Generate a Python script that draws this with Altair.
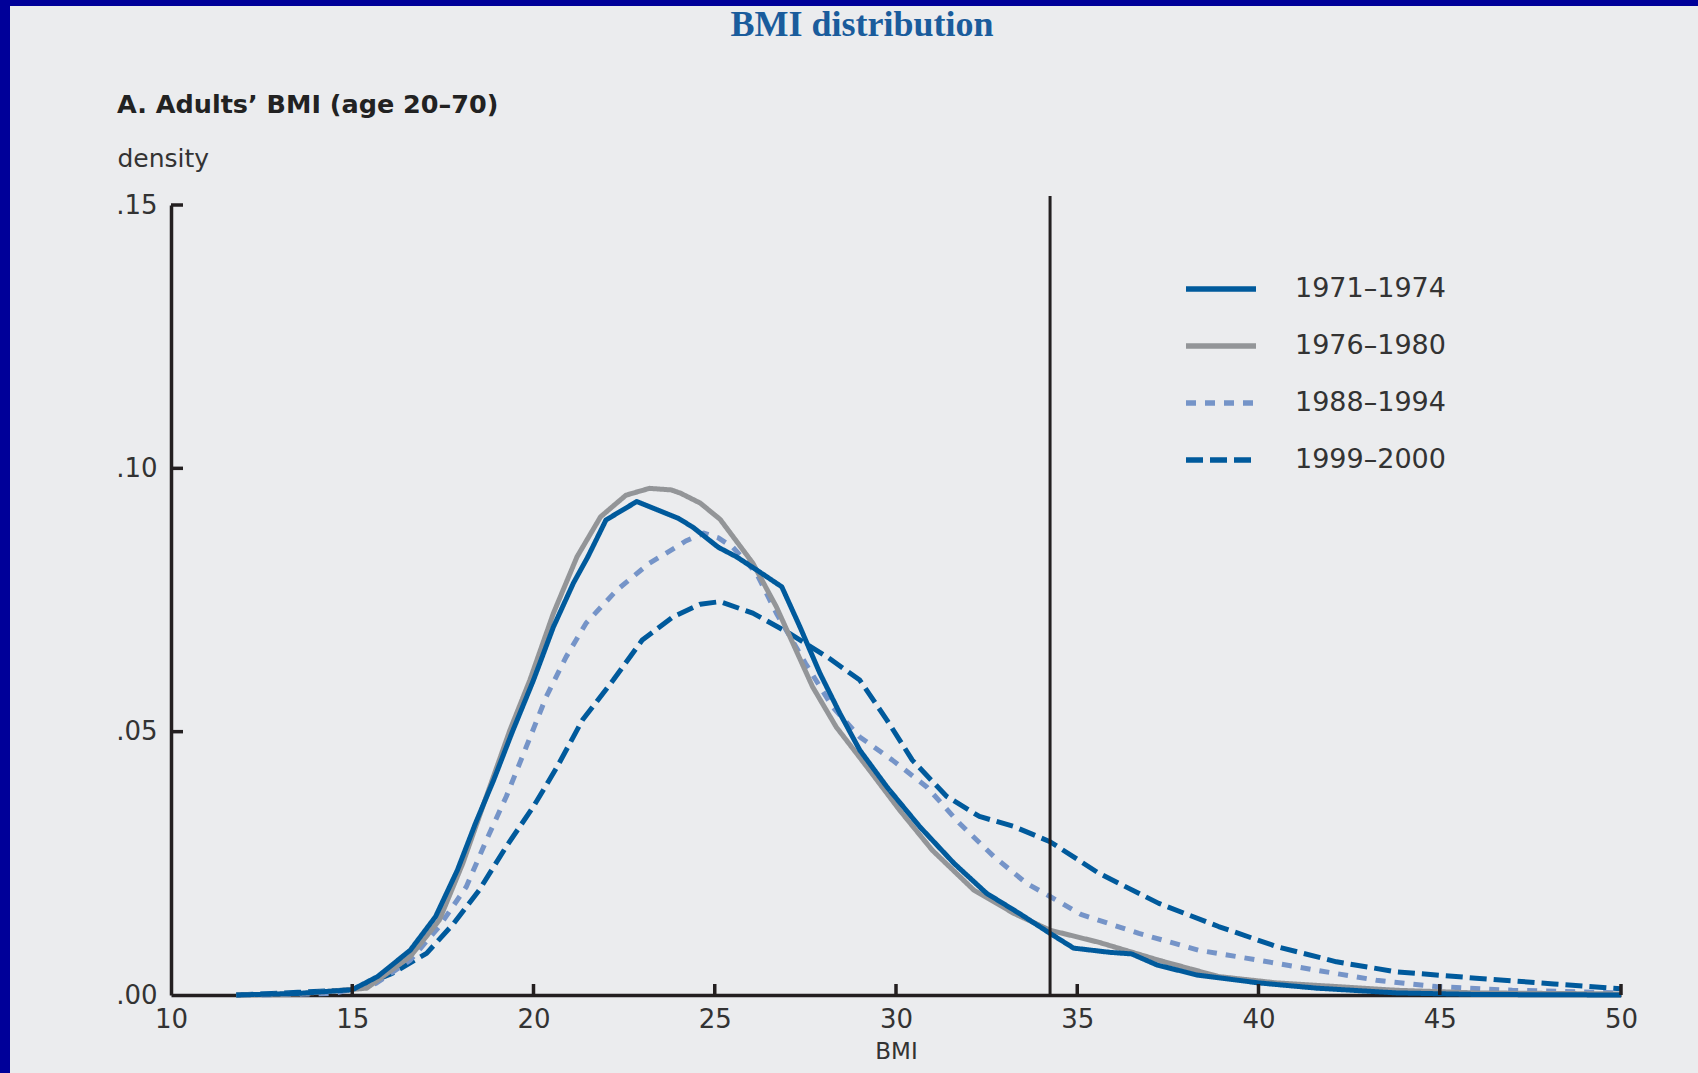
import altair as alt
import pandas as pd

# ---------------- data ----------------
series = ["1971–1974", "1976–1980", "1988–1994", "1999–2000"]

bmi_1971 = [11.8, 13.5, 15.0, 15.7, 16.6, 17.3, 17.9, 18.4, 18.9, 19.4, 20.0, 20.55, 21.1, 21.5,
            22.0, 22.85, 24.0, 24.4, 25.1, 25.6, 26.2, 26.85, 27.35, 27.9, 28.45, 29.0, 29.75,
            30.65, 31.6, 32.5, 33.4, 34.25, 34.9, 35.9, 36.5, 37.2, 38.3, 40.0, 41.6, 43.8, 46.0, 50.0]
den_1971 = [0.0, 0.0003, 0.001, 0.0035, 0.0085, 0.0149, 0.0237, 0.0326, 0.0408, 0.0497, 0.0598,
            0.0699, 0.0782, 0.0832, 0.0902, 0.0937, 0.0905, 0.0888, 0.0850, 0.0832, 0.0805, 0.0775,
            0.0699, 0.0611, 0.0535, 0.0465, 0.0395, 0.0320, 0.0250, 0.0193, 0.0155, 0.0117, 0.0089,
            0.0081, 0.0078, 0.0057, 0.0038, 0.0023, 0.0013, 0.0004, 0.0001, 0.0]

bmi_1976 = [11.8, 13.5, 15.4, 16.6, 17.4, 18.05, 18.7, 19.35, 19.9, 20.55, 21.2, 21.85, 22.55, 23.2,
            23.8, 24.05, 24.6, 25.15, 26.05, 26.7, 27.2, 27.7, 28.35, 29.2, 30.1, 31.0, 32.15, 33.25,
            34.25, 35.6, 37.25, 38.9, 40.5, 42.15, 43.8, 46.0, 50.0]
den_1976 = [0.0, 0.0002, 0.0013, 0.0073, 0.0142, 0.025, 0.0377, 0.0503, 0.0598, 0.0725, 0.0832,
            0.0908, 0.0949, 0.0962, 0.0959, 0.0953, 0.0934, 0.0903, 0.0820, 0.0737, 0.0661, 0.0585,
            0.0509, 0.0433, 0.0351, 0.0275, 0.0199, 0.0155, 0.0123, 0.0100, 0.0066, 0.0035, 0.0023,
            0.0016, 0.0009, 0.0004, 0.0002]

bmi_1988 = [12.5, 14.5, 15.65, 16.6, 17.4, 18.15, 18.7, 19.25, 19.8, 20.35, 20.9, 21.45, 22.3, 23.2,
            23.95, 24.2, 24.7, 25.1, 25.5, 26.15, 26.7, 27.5, 28.25, 29.0, 29.9, 30.85, 31.75, 32.7,
            33.6, 34.25, 35.1, 36.7, 38.35, 40.0, 41.6, 43.25, 44.9, 47.0, 50.0]
den_1988 = [0.0, 0.0003, 0.0022, 0.0066, 0.013, 0.0206, 0.0294, 0.0377, 0.0471, 0.0566, 0.0642,
            0.0706, 0.0769, 0.0820, 0.0851, 0.0862, 0.0877, 0.0868, 0.0850, 0.0801, 0.0725, 0.0630,
            0.0547, 0.0490, 0.0446, 0.0395, 0.0326, 0.0263, 0.0212, 0.0187, 0.0153, 0.0117, 0.0085,
            0.0066, 0.0047, 0.0028, 0.0016, 0.0009, 0.0004]

bmi_1999 = [11.8, 13.5, 15.0, 16.1, 17.05, 17.8, 18.5, 19.25, 20.0, 20.65, 21.35, 22.2, 23.0, 23.85,
            24.6, 25.15, 26.05, 27.05, 28.1, 29.0, 29.75, 30.45, 31.4, 32.3, 33.25, 34.25, 35.6,
            37.25, 38.9, 40.5, 42.15, 43.8, 46.0, 48.15, 50.0]
den_1999 = [0.0, 0.0005, 0.001, 0.0041, 0.0079, 0.0136, 0.0199, 0.0282, 0.0358, 0.0433, 0.0522,
            0.0598, 0.0674, 0.0718, 0.0742, 0.0747, 0.0725, 0.0687, 0.0642, 0.0598, 0.0522, 0.0446,
            0.0377, 0.0339, 0.0320, 0.0291, 0.0231, 0.0174, 0.0130, 0.0092, 0.0063, 0.0044, 0.0032,
            0.0021, 0.0012]

x_tick_values = [10, 15, 20, 25, 30, 35, 40, 45, 50]
y_tick_values = [0.0, 0.05, 0.10, 0.15]
cutoff_bmi = [34.25]

title_text = "BMI distribution"
subtitle_text = "A. Adults’ BMI (age 20–70)"

# ---------------- styling ----------------
colors = ["#005a9c", "#939598", "#7594c8", "#005a9c"]
dashes = [[1, 0], [1, 0], [10, 9], [17, 7]]
axis_col = "#231f20"
text_col = "#333333"
bg = "#ebecee"
border = "#000099"
FONT = "DejaVu Sans"
W, H = 1450, 790

frames = []
for name, xs, ys, order in [
    (series[3], bmi_1999, den_1999, 0),
    (series[2], bmi_1988, den_1988, 1),
    (series[1], bmi_1976, den_1976, 2),
    (series[0], bmi_1971, den_1971, 3),
]:
    frames.append(pd.DataFrame({"series": name, "bmi": xs, "density": ys, "z": order}))
df = pd.concat(frames, ignore_index=True)

color_scale = alt.Scale(domain=series, range=colors)
dash_scale = alt.Scale(domain=series, range=dashes)
x_scale = alt.Scale(domain=[10, 50], nice=False, zero=False)
y_scale = alt.Scale(domain=[0, 0.15], nice=False)

lines = alt.Chart(df).mark_line(strokeWidth=5, strokeCap="butt", strokeJoin="round").encode(
    x=alt.X("bmi:Q", scale=x_scale,
            axis=alt.Axis(values=x_tick_values, ticks=False, grid=False, domainColor=axis_col,
                          domainWidth=3.5, labelFont=FONT, labelFontSize=26, labelColor=text_col,
                          labelPadding=11, labelFlush=False, title="BMI", titleFont=FONT,
                          titleFontSize=23, titleFontWeight="normal", titleColor=text_col,
                          titleY=63, titleBaseline="alphabetic")),
    y=alt.Y("density:Q", scale=y_scale,
            axis=alt.Axis(values=y_tick_values, ticks=False, tickSize=0, grid=False,
                          domainColor=axis_col, domainWidth=3.5, labelFont=FONT, labelFontSize=26,
                          labelColor=text_col, labelPadding=14, labelFlush=False,
                          labelExpr="replace(format(datum.value, '.2f'), '0.', '.')",
                          title="density", titleFont=FONT, titleFontSize=25,
                          titleFontWeight="normal", titleColor=text_col, titleAngle=0,
                          titleAlign="left", titleBaseline="alphabetic", titleX=-54, titleY=-39)),
    color=alt.Color("series:N", scale=color_scale, legend=None),
    strokeDash=alt.StrokeDash("series:N", scale=dash_scale, legend=None),
    detail="z:N",
)

xticks = alt.Chart(pd.DataFrame({"bmi": x_tick_values[1:]})).mark_rule(
    color=axis_col, strokeWidth=3.5).encode(
    x=alt.X("bmi:Q", scale=x_scale), y=alt.value(H), y2=alt.value(H - 11))

yticks = alt.Chart(pd.DataFrame({"density": y_tick_values[1:]})).mark_rule(
    color=axis_col, strokeWidth=3.5).encode(
    y=alt.Y("density:Q", scale=y_scale), x=alt.value(0), x2=alt.value(12))

vline = alt.Chart(pd.DataFrame({"bmi": cutoff_bmi})).mark_rule(
    color=axis_col, strokeWidth=3).encode(
    x=alt.X("bmi:Q", scale=x_scale), y=alt.value(-9), y2=alt.value(H))

title = alt.Chart(pd.DataFrame({"t": [title_text]})).mark_text(
    font="Liberation Serif", fontSize=36, fontWeight="bold", color="#1a5c9c",
    align="center", baseline="alphabetic").encode(
    text="t:N", x=alt.value(691), y=alt.value(-169))

subtitle = alt.Chart(pd.DataFrame({"t": [subtitle_text]})).mark_text(
    font=FONT, fontSize=25.5, fontWeight="bold", color="#222222",
    align="left", baseline="alphabetic").encode(
    text="t:N", x=alt.value(-54), y=alt.value(-92))

left_border = alt.Chart(pd.DataFrame({"a": [0]})).mark_rule(color=border, strokeWidth=10).encode(
    x=alt.value(-166), y=alt.value(-205), y2=alt.value(868))
top_border = alt.Chart(pd.DataFrame({"a": [0]})).mark_rule(color=border, strokeWidth=6).encode(
    y=alt.value(-202), x=alt.value(-171), x2=alt.value(1527))

main = alt.layer(lines, xticks, yticks, vline, title, subtitle, left_border, top_border)

leg_df = pd.DataFrame({"series": series, "label": series})
leg_y = alt.Y("series:N", scale=alt.Scale(type="point", domain=series, range=[84, 255], padding=0),
              axis=None)
leg_lines = alt.Chart(leg_df).mark_rule(strokeWidth=5.5, strokeCap="butt").encode(
    y=leg_y, x=alt.value(1015), x2=alt.value(1085),
    color=alt.Color("series:N", scale=color_scale, legend=None),
    strokeDash=alt.StrokeDash("series:N", scale=dash_scale, legend=None))
leg_text = alt.Chart(leg_df).mark_text(font=FONT, fontSize=27, color=text_col, align="left",
                                       baseline="middle").encode(
    y=leg_y, x=alt.value(1124), text="label:N")
legend = alt.layer(leg_lines, leg_text)

chart = alt.layer(main, legend).resolve_scale(y="independent").properties(
    width=W, height=H,
    background=bg,
    autosize=alt.AutoSizeParams(type="none"),
    padding={"left": 171, "top": 205, "right": 77, "bottom": 78},
).configure_view(strokeWidth=0, fill=bg)

chart.save("out.html", embed_options={"renderer": "svg", "actions": False})
